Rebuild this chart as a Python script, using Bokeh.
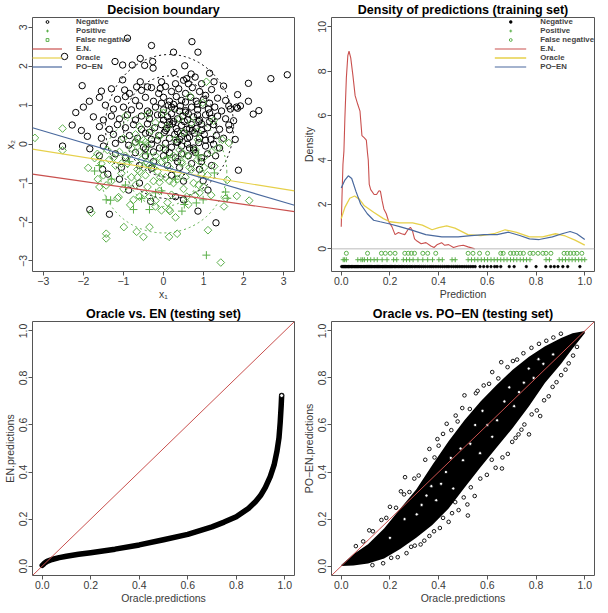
import math
from bokeh.plotting import figure
from bokeh.models import Range1d, Legend, LegendItem, FixedTicker, Span
from bokeh.layouts import gridplot
from bokeh.embed import file_html
from bokeh.resources import INLINE

FONT = "Liberation Sans"
RED = "#C9504E"
YEL = "#E6D04A"
BLU = "#4A699E"
GRN = "#5BAF4A"
AXC = "#555555"
TXC = "#3A3A3A"

# ---------------- Panel 1: decision boundary ----------------
neg_x = [-0.90, -0.30, 0.71, 0.86, 0.25, -2.47, -0.58, -0.47, -0.27, -0.26, -0.78, -1.21, -1.02, 0.53, 0.26, 0.69, 0.79, 1.15, 0.50, 0.58,
         1.26, 1.50, 1.85, 2.12, 2.68, 3.09, -2.03, -1.55, -1.02, -0.58, -0.97, -0.67, -0.40, -0.08, -1.85, 2.12, 1.92, 1.82, 1.67, 1.63,
         2.24, 2.38, 1.63, 1.65, 1.79, -2.19, -2.28,
         -1.30, -0.85, -0.55, -0.30, -0.12, 0.05, 0.20, 0.38, 0.55, 0.72, 0.90, 1.05, 1.20, 0.30, 0.62, -0.05, 0.95,
         -1.60, -1.15, -0.95, -0.70, -0.45, -0.25, 0.00, 0.15, 0.32, 0.45, 0.68, 0.82, 1.00, 1.15, 1.35, 1.55,
         -2.00, -1.45, -1.25, -1.00, -0.80, -0.60, -0.40, -0.20, 0.00, 0.12, 0.28, 0.42, 0.55, 0.70, 0.85, 0.98, 1.12, 1.28, 1.45, 1.85, 0.20, 0.62,
         -1.75, -1.50, -1.30, -1.10, -0.90, -0.70, -0.55, -0.35, -0.15, 0.00, 0.10, 0.35, 0.48, 0.60, 0.75, 0.90, 1.05, 1.20, 1.35, 1.55, 1.75,
         -2.05, -1.60, -1.35, -1.15, -0.95, -0.75, -0.55, -0.40, -0.22, -0.05, 0.08, 0.22, 0.32, 0.45, 0.58, 0.70, 0.82, 0.95, 1.10, 1.25, 1.40, 0.15, 0.52, 0.88,
         -1.90, -1.55, -1.25, -1.05, -0.85, -0.65, -0.45, -0.30, -0.12, 0.02, 0.15, 0.28, 0.40, 0.52, 0.65, 0.78, 0.90, 1.02, 1.18, 1.32, 1.50, 0.35, 0.72,
         -2.52, -1.84, -1.50, -1.20, -0.87, -0.70, -0.50, -0.30, -0.10, 0.05, 0.20, 0.32, 0.45, 0.60, 0.75, 0.88, 1.05, 1.25, 1.40,
         -1.60, -1.20, -0.95, -0.70, -0.45, -0.25, 0.00, 0.15, 0.30, 0.45, 0.62, 0.80, 0.95, 1.10, 1.30,
         -1.52, -1.39, -1.05, -0.60, -0.30, 0.10, 0.40, 0.70, 0.90, 1.87, 1.20, 0.99, 1.11, 0.30, 0.50, 0.86, 1.31, -1.84, -1.35, -0.32, -0.87, -1.10, -0.60, 0.50, 0.20,
         -0.05, 0.25, 0.55, 0.85, 1.15, -0.35, -0.05, 0.25, 0.55, 0.85, 1.15, -0.35, 0.05, 0.35, 0.65, 0.95, -0.15, 0.15, 0.45, 0.75, 1.05, -0.45, -0.25, 0.05, 0.35, 0.65, 0.95, 0.40, 0.60, 0.20]
neg_y = [2.72, 2.53, 2.63, 2.36, 2.36, 2.25, 2.20, 2.02, 2.12, 1.95, 2.03, 2.12, 2.03, 2.01, 1.84, 1.80, 1.72, 1.82, 1.64, 1.68,
         1.60, 1.49, 1.27, 1.56, 1.68, 1.78, 1.50, 1.36, 1.65, 1.60, 1.39, 1.47, 1.47, 1.43, 1.10, 1.10, 0.98, 0.95, 0.90, 0.98,
         0.77, 0.86, 0.49, 0.37, 0.12, 0.81, 0.49,
         1.42, 1.30, 1.38, 1.45, 1.30, 1.48, 1.35, 1.42, 1.30, 1.45, 1.35, 1.25, 1.40, 1.55, 1.55, 1.60, 1.55,
         1.20, 1.15, 1.22, 1.12, 1.20, 1.10, 1.20, 1.10, 1.22, 1.12, 1.20, 1.10, 1.15, 1.05, 1.18, 1.12,
         0.95, 1.00, 0.90, 0.95, 0.88, 0.98, 0.85, 0.95, 0.88, 1.00, 0.90, 0.98, 0.86, 0.95, 0.88, 1.00, 0.90, 0.95, 0.85, 0.92, 0.78, 0.78,
         0.70, 0.62, 0.72, 0.65, 0.75, 0.62, 0.72, 0.65, 0.75, 0.62, 0.70, 0.65, 0.72, 0.62, 0.70, 0.62, 0.75, 0.66, 0.72, 0.65, 0.60,
         0.35, 0.45, 0.38, 0.50, 0.42, 0.50, 0.38, 0.52, 0.42, 0.50, 0.40, 0.52, 0.40, 0.48, 0.38, 0.50, 0.40, 0.52, 0.42, 0.50, 0.38, 0.58, 0.58, 0.58,
         0.20, 0.15, 0.25, 0.12, 0.22, 0.15, 0.28, 0.12, 0.22, 0.30, 0.15, 0.25, 0.12, 0.28, 0.18, 0.28, 0.15, 0.25, 0.12, 0.22, 0.15, 0.32, 0.35,
         -0.05, -0.12, -0.05, 0.02, -0.03, 0.05, -0.08, 0.00, -0.10, 0.02, -0.08, 0.05, -0.05, 0.00, -0.10, 0.04, -0.05, 0.00, -0.10,
         -0.30, -0.25, -0.35, -0.22, -0.30, -0.20, -0.30, -0.22, -0.35, -0.25, -0.30, -0.22, -0.35, -0.25, -0.30,
         -0.65, -0.77, -0.60, -0.55, -0.62, -0.55, -0.60, -0.50, -0.65, -0.67, -0.55, -0.94, -1.18, -1.35, -1.43, -1.72, -2.02, -1.68, -1.80, -1.47, -1.18, -0.90, -1.00, -0.95, -0.80,
         1.05, 1.02, 1.08, 1.03, 0.80, 0.80, 0.75, 0.58, 0.82, 0.75, 0.58, 0.30, 0.35, 0.05, 0.40, 0.35, 0.10, 0.50, 0.20, -0.15, 0.10, -0.12, -0.45, -0.15, -0.45, -0.10, -0.45, 0.85, 0.15, 0.95]

fn_x = [-3.21, -2.52, -2.52, -0.95, 1.07, 0.66, 0.98, 0.86, 0.86, 1.47, 1.63, -1.88, -1.72, -1.64, -1.60, -1.80, -1.43, -1.15, -1.12, -0.83,
        -0.75, -0.47, -0.99, -0.67, -0.50, -0.35, -1.43, -1.43, 0.95, 1.59, 1.83, 2.14, 1.55, 1.51, 1.19, 0.79, 0.58, 0.14, 0.16, 0.30,
        0.14, 0.34, 1.11, 1.43, 1.27,
        -1.55, -1.35, -1.20, -1.05, -0.90, -0.80, -0.65, -0.55, -0.45, -0.35, -0.25, -0.15, -0.05, 0.05, 0.15, 0.25, 0.35, 0.45, 0.55, 0.65, 0.75, 0.85, 1.00, 1.10,
        -1.30, -1.00, -0.70, -0.40, -0.10, 0.20, 0.50, 0.90, -0.60, -0.20, 0.10,
        -1.40, -1.10, -0.80, -0.60, -0.40, -0.20, 0.00, 0.20, 0.40, 0.60, 0.80, 1.00, 1.20,
        -1.00, -0.70, -0.50, -0.30, -0.10, 0.10, 0.30, 0.50, 0.70, -0.60, -0.20, 0.00, 0.40, -0.40, 1.25, 1.35,
        -0.65, -0.60, -0.50, -0.40, -0.20, -0.25, -0.08, -0.10, -0.35, -0.20, -0.05, 0.46, 0.70, 0.50, 0.25, 0.05, 0.15, 0.35,
        -1.25, -0.95, -0.70, -0.45, -1.50, -1.65, -1.05, 0.62, 0.88, 1.02]
fn_y = [0.16, 0.40, -0.16, 0.72, 1.60, 1.23, 1.06, 0.32, 0.11, 0.11, 0.03, -0.61, -0.36, -0.90, -1.10, -1.76, -1.06, -1.39, -1.36, -1.56,
        -1.43, -1.27, -2.13, -2.25, -2.38, -2.13, -2.30, -2.42, -0.77, -0.92, -1.33, -1.45, -1.39, -1.60, -1.31, -1.31, -1.35, -1.68, -1.72, -1.88,
        -2.38, -2.30, -2.21, -3.04, -0.57,
        -0.50, -0.40, -0.55, -0.75, -0.50, -0.85, -0.65, -0.40, -0.80, -0.55, -0.95, -0.70, -0.45, -0.85, -0.60, -1.00, -0.75, -0.45, -0.85, -0.60, -1.00, -0.40, -1.10, -0.80,
        -0.95, -1.15, -1.05, -1.10, -1.20, -1.30, -1.15, -1.25, -1.35, -1.45, -1.50,
        -0.15, -0.20, -0.10, -0.20, -0.05, -0.30, -0.10, -0.35, -0.15, -0.30, -0.15, -0.35, -0.20,
        0.15, 0.25, 0.10, 0.35, 0.20, 0.45, 0.12, 0.30, 0.55, 0.45, 0.55, 0.80, 0.65, 0.75, 0.60, -0.10,
        -0.85, -0.70, -0.60, -0.48, -0.45, -0.62, -0.85, -0.98, -1.35, -1.60, -1.70, -0.50, -0.65, -0.25, -0.30, -0.40, -0.95, -0.90,
        -0.35, -0.30, 0.05, 0.05, -0.80, -0.25, -0.50, -1.55, -1.05, -0.60]

pos_x = [1.07, 1.55, 1.59, 0.99, 0.82, 0.46, 0.52, 1.27, 0.86, -1.43, -0.75, -0.55, -0.35, -1.72, -1.30,
         -0.95, -0.40, 0.10, -0.60, 0.30, -0.20, -0.85, -1.60, -1.32, -0.05]
pos_y = [-2.85, -1.23, -1.39, -1.43, -1.51, -1.72, -1.55, -0.74, -0.28, -1.43, -1.68, -1.40, -1.68, -0.69, -0.90,
         -1.05, -0.25, -0.35, 0.05, -0.90, -1.25, -0.45, -0.55, -1.44, -1.20]

# decision boundaries: intercept, slope
boundary_names = ["E.N.", "Oracle", "PO\u2212EN"]
boundary_intercept = [-1.25, -0.665, -0.575]
boundary_slope = [-0.147, -0.1636, -0.3043]
boundary_colors = [RED, YEL, BLU]

# class density contours (centre, width, height)
neg_contour_x = [0.15, 0.15]
neg_contour_y = [0.45, 0.45]
neg_contour_w = [3.2, 2.3]
neg_contour_h = [3.7, 2.6]
pos_contour_x = [0.0, 0.0]
pos_contour_y = [-0.7, -0.7]
pos_contour_w = [3.16, 1.8]
pos_contour_h = [3.16, 1.8]

# ---------------- Panel 2: densities ----------------
en_dx = [0.0, 0.003, 0.007, 0.011, 0.015, 0.021, 0.027, 0.032, 0.039, 0.048, 0.057, 0.068, 0.077, 0.085, 0.095, 0.103, 0.108,
         0.111, 0.115, 0.121, 0.135, 0.145, 0.155, 0.161, 0.168, 0.175, 0.185, 0.195, 0.208, 0.221, 0.235, 0.248, 0.261, 0.275,
         0.284, 0.292, 0.301, 0.311, 0.328, 0.348, 0.368, 0.381, 0.395, 0.412, 0.425, 0.441, 0.461, 0.481, 0.501, 0.521, 0.548]
en_dy = [1.0, 2.3, 3.8, 4.4, 5.9, 7.7, 8.7, 8.9, 8.6, 7.8, 6.9, 6.5, 6.2, 5.1, 5.0, 4.9, 4.3,
         4.0, 2.9, 2.67, 2.45, 2.45, 2.62, 2.59, 2.16, 1.8, 1.58, 1.22, 1.0, 0.64, 0.74, 0.68, 0.64, 0.88,
         0.97, 0.83, 0.45, 0.35, 0.23, 0.28, 0.13, 0.06, 0.2, 0.28, 0.16, 0.19, 0.06, 0.13, 0.16, 0.09, 0.0]
or_dx = [0.0, 0.015, 0.035, 0.055, 0.075, 0.095, 0.133, 0.173, 0.2, 0.24, 0.293, 0.333, 0.373, 0.4, 0.433, 0.467,
         0.52, 0.573, 0.627, 0.673, 0.72, 0.773, 0.827, 0.88, 0.92, 0.96, 1.0]
or_dy = [1.36, 1.87, 2.28, 2.38, 2.23, 1.94, 1.65, 1.36, 1.22, 1.17, 1.17, 1.07, 0.86, 0.96, 1.03, 0.93,
         0.64, 0.6, 0.68, 0.86, 0.74, 0.54, 0.54, 0.68, 0.58, 0.39, 0.17]
po_dx = [0.0, 0.015, 0.029, 0.043, 0.06, 0.08, 0.107, 0.133, 0.16, 0.2, 0.24, 0.293, 0.347, 0.413, 0.48, 0.533,
         0.587, 0.64, 0.687, 0.733, 0.773, 0.813, 0.867, 0.907, 0.94, 0.967, 1.0]
po_dy = [2.74, 3.1, 3.29, 3.17, 2.6, 2.01, 1.58, 1.29, 1.22, 1.12, 1.0, 0.83, 0.64, 0.54, 0.54, 0.6,
         0.64, 0.64, 0.75, 0.6, 0.45, 0.42, 0.54, 0.68, 0.78, 0.68, 0.42]

rug_fn = [0.021, 0.108, 0.165, 0.181, 0.201, 0.221, 0.261, 0.275, 0.288, 0.301, 0.335, 0.355, 0.388, 0.521, 0.541, 0.568,
          0.601, 0.655, 0.665, 0.695, 0.708, 0.721, 0.735, 0.748, 0.775, 0.788, 0.808, 0.828, 0.841, 0.861, 0.915, 0.928,
          0.941, 0.955, 0.968, 0.988]
rug_pos = [0.008, 0.014, 0.021, 0.068, 0.081, 0.088, 0.095, 0.108, 0.121, 0.135, 0.148, 0.168, 0.188, 0.215, 0.228, 0.255,
           0.268, 0.281, 0.295, 0.315, 0.335, 0.355, 0.375, 0.401, 0.415, 0.455, 0.468, 0.521, 0.535, 0.548, 0.561, 0.575,
           0.588, 0.601, 0.615, 0.628, 0.641, 0.655, 0.668, 0.681, 0.695, 0.708, 0.721, 0.735, 0.748, 0.761, 0.775, 0.841,
           0.855, 0.895, 0.908, 0.921, 0.935, 0.948, 0.961, 0.975, 0.988, 1.0]
rug_neg = [0.002, 0.006, 0.01, 0.013, 0.017, 0.02, 0.024, 0.028, 0.031, 0.035, 0.04, 0.043, 0.047, 0.052, 0.056, 0.06, 0.064,
           0.068, 0.072, 0.077, 0.081, 0.085, 0.09, 0.094, 0.098, 0.103, 0.107, 0.112, 0.116, 0.121, 0.125, 0.13, 0.135, 0.139,
           0.144, 0.149, 0.153, 0.158, 0.163, 0.168, 0.172, 0.177, 0.182, 0.187, 0.192, 0.197, 0.202, 0.207, 0.212, 0.218,
           0.223, 0.229, 0.235, 0.241, 0.247, 0.253, 0.259, 0.266, 0.272, 0.279, 0.286, 0.292, 0.3, 0.307, 0.315, 0.322, 0.33,
           0.338, 0.346, 0.355, 0.364, 0.372, 0.38, 0.389, 0.398, 0.407, 0.416, 0.425, 0.434, 0.442, 0.452, 0.461, 0.47,
           0.478, 0.487, 0.496, 0.505, 0.514, 0.523, 0.532, 0.541, 0.55, 0.57, 0.585, 0.6, 0.615, 0.63, 0.64, 0.655, 0.69,
           0.71, 0.76, 0.8, 0.84, 0.86, 0.875, 0.89, 0.91, 0.93, 0.98]
rug_levels = [-0.2, -0.49, -0.8]

# ---------------- Panel 3: Oracle vs EN ----------------
oe_x = [0.0, 0.005, 0.01, 0.02, 0.04, 0.07, 0.1, 0.15, 0.2, 0.3, 0.4, 0.5, 0.6, 0.7, 0.75, 0.8, 0.85, 0.88, 0.9,
        0.92, 0.94, 0.956, 0.968, 0.976, 0.981, 0.985, 0.987]
oe_y = [0.003, 0.008, 0.013, 0.02, 0.028, 0.036, 0.042, 0.05, 0.057, 0.072, 0.09, 0.112, 0.135, 0.167, 0.187, 0.21, 0.245,
        0.275, 0.30, 0.335, 0.38, 0.43, 0.49, 0.545, 0.61, 0.68, 0.725]

# ---------------- Panel 4: Oracle vs PO-EN ----------------
op_x = [0.0, 0.05, 0.11, 0.176, 0.242, 0.308, 0.374, 0.44, 0.506, 0.572, 0.638, 0.704, 0.771, 0.837, 0.903, 0.95, 1.0]
op_hi = [0.005, 0.05, 0.093, 0.16, 0.244, 0.326, 0.43, 0.53, 0.62, 0.70, 0.77, 0.835, 0.89, 0.935, 0.97, 0.99, 1.0]
op_lo = [0.0, 0.002, 0.011, 0.032, 0.073, 0.12, 0.175, 0.244, 0.333, 0.42, 0.504, 0.587, 0.68, 0.78, 0.86, 0.925, 0.99]
# scattered points around the edges of the dense cloud
op_out_x = [0.06, 0.09, 0.115, 0.13, 0.165, 0.185, 0.20, 0.225, 0.245, 0.262, 0.28, 0.30, 0.318, 0.345, 0.362, 0.383, 0.40,
            0.418, 0.433, 0.452, 0.478, 0.497, 0.506, 0.528, 0.553, 0.585, 0.607, 0.62, 0.645, 0.657, 0.683, 0.705, 0.722,
            0.748, 0.781, 0.812, 0.842, 0.871, 0.902, 0.258, 0.395, 0.47, 0.56,
            0.128, 0.172, 0.205, 0.232, 0.268, 0.287, 0.302, 0.326, 0.341, 0.362, 0.381, 0.405, 0.418, 0.441, 0.455, 0.468,
            0.482, 0.503, 0.518, 0.532, 0.548, 0.571, 0.598, 0.618, 0.634, 0.662, 0.684, 0.702, 0.716, 0.728, 0.752, 0.771,
            0.782, 0.803, 0.817, 0.833, 0.852, 0.868, 0.884, 0.903, 0.921, 0.934, 0.952, 0.968, 0.66, 0.74, 0.52]
op_out_y = [0.085, 0.105, 0.152, 0.148, 0.196, 0.205, 0.252, 0.248, 0.318, 0.378, 0.315, 0.372, 0.385, 0.452, 0.498, 0.462,
            0.512, 0.562, 0.605, 0.578, 0.615, 0.672, 0.726, 0.668, 0.735, 0.768, 0.775, 0.825, 0.798, 0.867, 0.846, 0.872,
            0.878, 0.905, 0.928, 0.945, 0.958, 0.972, 0.988, 0.305, 0.54, 0.64, 0.745,
            0.004, 0.012, 0.035, 0.038, 0.055, 0.082, 0.087, 0.092, 0.108, 0.128, 0.148, 0.162, 0.205, 0.188, 0.225, 0.272,
            0.238, 0.292, 0.262, 0.335, 0.298, 0.372, 0.388, 0.452, 0.418, 0.462, 0.477, 0.528, 0.545, 0.56, 0.602, 0.56,
            0.645, 0.662, 0.638, 0.705, 0.722, 0.762, 0.782, 0.812, 0.835, 0.862, 0.895, 0.932, 0.415, 0.58, 0.215]
# hollow points inside the dense cloud (white speckle)
op_in_x = [0.2, 0.26, 0.31, 0.35, 0.39, 0.43, 0.46, 0.5, 0.53, 0.57, 0.6, 0.64, 0.67, 0.71, 0.75, 0.79, 0.83, 0.87,
           0.33, 0.41, 0.49, 0.55, 0.62, 0.69, 0.77, 0.45, 0.58, 0.73, 0.81, 0.37]
op_in_y = [0.12, 0.2, 0.22, 0.3, 0.28, 0.4, 0.33, 0.45, 0.52, 0.48, 0.6, 0.62, 0.7, 0.68, 0.78, 0.8, 0.86, 0.9,
           0.26, 0.35, 0.5, 0.6, 0.55, 0.76, 0.84, 0.46, 0.66, 0.74, 0.88, 0.34]

unit_ticks = [0.0, 0.2, 0.4, 0.6, 0.8, 1.0]
unit_labels = ["0.0", "0.2", "0.4", "0.6", "0.8", "1.0"]
sym_ticks = [-3, -2, -1, 0, 1, 2, 3]
sym_labels = ["\u22123", "\u22122", "\u22121", "0", "1", "2", "3"]
dens_ticks = [0, 2, 4, 6, 8, 10]


def make(title, xr, yr, xlabel, ylabel, fw, fh, top, left, bottom, right):
    p = figure(frame_width=fw, frame_height=fh, x_range=Range1d(*xr), y_range=Range1d(*yr),
               output_backend="svg", toolbar_location=None,
               min_border_top=top, min_border_left=left, min_border_bottom=bottom, min_border_right=right)
    p.title.text = title
    p.title.align = "center"
    p.title.text_font = FONT
    p.title.text_font_size = "12.5px"
    p.title.text_font_style = "bold"
    p.title.text_color = "black"
    p.title.text_line_height = 1.0
    p.title.standoff = 1
    p.xgrid.visible = False
    p.ygrid.visible = False
    p.outline_line_color = AXC
    p.outline_line_width = 1
    p.outline_line_alpha = 1
    p.background_fill_color = "white"
    p.border_fill_color = "white"
    for ax in (p.xaxis[0], p.yaxis[0]):
        ax.axis_line_color = None
        ax.major_tick_line_color = AXC
        ax.major_tick_out = 4
        ax.major_tick_in = 0
        ax.minor_tick_line_color = None
        ax.major_label_text_font = FONT
        ax.major_label_text_font_size = "10.5px"
        ax.major_label_text_color = TXC
        ax.major_label_text_line_height = 1.0
        ax.major_label_standoff = 1
        ax.axis_label_text_font = FONT
        ax.axis_label_text_font_size = "10.5px"
        ax.axis_label_text_font_style = "normal"
        ax.axis_label_text_color = TXC
        ax.axis_label_text_line_height = 1.0
        ax.axis_label_standoff = 1
    p.xaxis.major_label_standoff = 1
    p.xaxis.axis_label_standoff = 0
    p.xaxis.axis_label = xlabel
    p.yaxis.axis_label = ylabel
    p.yaxis.major_label_orientation = "vertical"
    return p


def legend(items, loc, gw, standoff, pad):
    lg = Legend(items=items, location=loc)
    lg.border_line_color = None
    lg.background_fill_alpha = 0
    lg.label_text_font = FONT
    lg.label_text_font_size = "7.8px"
    lg.label_text_font_style = "bold"
    lg.label_text_line_height = 0.85
    lg.glyph_width = gw
    lg.glyph_height = 7
    lg.label_height = 7
    lg.spacing = 0
    lg.padding = pad
    lg.margin = 0
    lg.label_standoff = standoff
    return lg


FW_L, FW_R, FH = 262, 263, 254

# Panel 1
p1 = make("Decision boundary", (-3.27, 3.27), (-3.27, 3.25), "x\u2081", "x\u2082", FW_L, FH, 0, 27, 20, 5)
p1.xaxis.ticker = FixedTicker(ticks=sym_ticks)
p1.yaxis.ticker = FixedTicker(ticks=sym_ticks)
p1.xaxis.major_label_overrides = {t: l for t, l in zip(sym_ticks, sym_labels)}
p1.yaxis.major_label_overrides = {t: l for t, l in zip(sym_ticks, sym_labels)}
r_neg = p1.scatter(neg_x, neg_y, marker="circle", size=6.4, fill_color=None, line_color="black", line_width=1)
r_fn = p1.scatter(fn_x, fn_y, marker="square", angle=math.pi / 4, size=5.4, fill_color=None, line_color=GRN, line_width=1)
r_pos = p1.scatter(pos_x, pos_y, marker="cross", size=8, line_color=GRN, line_width=1)
p1.ellipse(neg_contour_x, neg_contour_y, width=neg_contour_w, height=neg_contour_h,
           fill_color=None, line_color="black", line_dash="2 3", line_width=1)
p1.ellipse(pos_contour_x, pos_contour_y, width=pos_contour_w, height=pos_contour_h,
           fill_color=None, line_color=GRN, line_dash="2 3", line_width=1)
xr1 = [-3.27, 3.27]
line_r = []
for a, b, c in zip(boundary_intercept, boundary_slope, boundary_colors):
    line_r.append(p1.line(xr1, [a + b * x for x in xr1], line_color=c, line_width=1.2))
items1 = [LegendItem(label="Negative", renderers=[r_neg]),
          LegendItem(label="Positive", renderers=[r_pos]),
          LegendItem(label="False negative", renderers=[r_fn])] + \
         [LegendItem(label=n, renderers=[r]) for n, r in zip(boundary_names, line_r)]
p1.add_layout(legend(items1, "top_left", 30, 14, 5))

# Panel 2
p2 = make("Density of predictions (training set)", (-0.04, 1.04), (-1.02, 10.42), "Prediction", "Density",
          FW_R, FH, 0, 30, 20, 4)
p2.xaxis.ticker = FixedTicker(ticks=unit_ticks)
p2.xaxis.major_label_overrides = {t: l for t, l in zip(unit_ticks, unit_labels)}
p2.yaxis.ticker = FixedTicker(ticks=dens_ticks)
p2.add_layout(Span(location=0, dimension="width", line_color="#BBBBBB", line_width=1))
r_en = p2.line(en_dx, en_dy, line_color=RED, line_width=1.1)
r_or = p2.line(or_dx, or_dy, line_color=YEL, line_width=1.3)
r_po = p2.line(po_dx, po_dy, line_color=BLU, line_width=1.2)
r2_fn = p2.scatter(rug_fn, [rug_levels[0]] * len(rug_fn), marker="circle", size=4, fill_color=None,
                   line_color=GRN, line_width=1)
r2_pos = p2.scatter(rug_pos, [rug_levels[1]] * len(rug_pos), marker="cross", size=5, line_color=GRN, line_width=1)
r2_neg = p2.scatter(rug_neg, [rug_levels[2]] * len(rug_neg), marker="circle", size=2.6, fill_color="black",
                    line_color="black", line_width=0.6)
items2 = [LegendItem(label="Negative", renderers=[r2_neg]),
          LegendItem(label="Positive", renderers=[r2_pos]),
          LegendItem(label="False negative", renderers=[r2_fn]),
          LegendItem(label="E.N.", renderers=[r_en]),
          LegendItem(label="Oracle", renderers=[r_or]),
          LegendItem(label="PO\u2212EN", renderers=[r_po])]
p2.add_layout(legend(items2, "top_right", 32, 14, 3))

# Panel 3
p3 = make("Oracle vs. EN (testing set)", (-0.04, 1.04), (-0.04, 1.04), "Oracle.predictions", "EN.predictions",
          FW_L, FH, 19, 27, 20, 5)
for ax in (p3.xaxis, p3.yaxis):
    ax.ticker = FixedTicker(ticks=unit_ticks)
    ax.major_label_overrides = {t: l for t, l in zip(unit_ticks, unit_labels)}
p3.line(oe_x, oe_y, line_color="black", line_width=5.5, line_cap="round", line_join="round")
p3.scatter(oe_x[-1:], oe_y[-1:], marker="circle", size=4, fill_color="white", line_color="black")
p3.line([-0.04, 1.04], [-0.04, 1.04], line_color=RED, line_width=1)

# Panel 4
p4 = make("Oracle vs. PO\u2212EN (testing set)", (-0.04, 1.04), (-0.04, 1.04), "Oracle.predictions",
          "PO\u2212EN.predictions", FW_R, FH, 19, 30, 20, 4)
for ax in (p4.xaxis, p4.yaxis):
    ax.ticker = FixedTicker(ticks=unit_ticks)
    ax.major_label_overrides = {t: l for t, l in zip(unit_ticks, unit_labels)}
p4.varea(x=op_x, y1=op_lo, y2=op_hi, fill_color="black")
p4.scatter(op_in_x, op_in_y, marker="circle", size=3.2, fill_color="white", line_color="black", line_width=0.8)
p4.scatter(op_out_x, op_out_y, marker="circle", size=3.6, fill_color="white", line_color="black", line_width=0.9)
p4.line([-0.04, 1.04], [-0.04, 1.04], line_color=RED, line_width=1)

grid = gridplot([[p1, p2], [p3, p4]], toolbar_location=None)
open("out.html", "w").write(file_html(grid, INLINE))
